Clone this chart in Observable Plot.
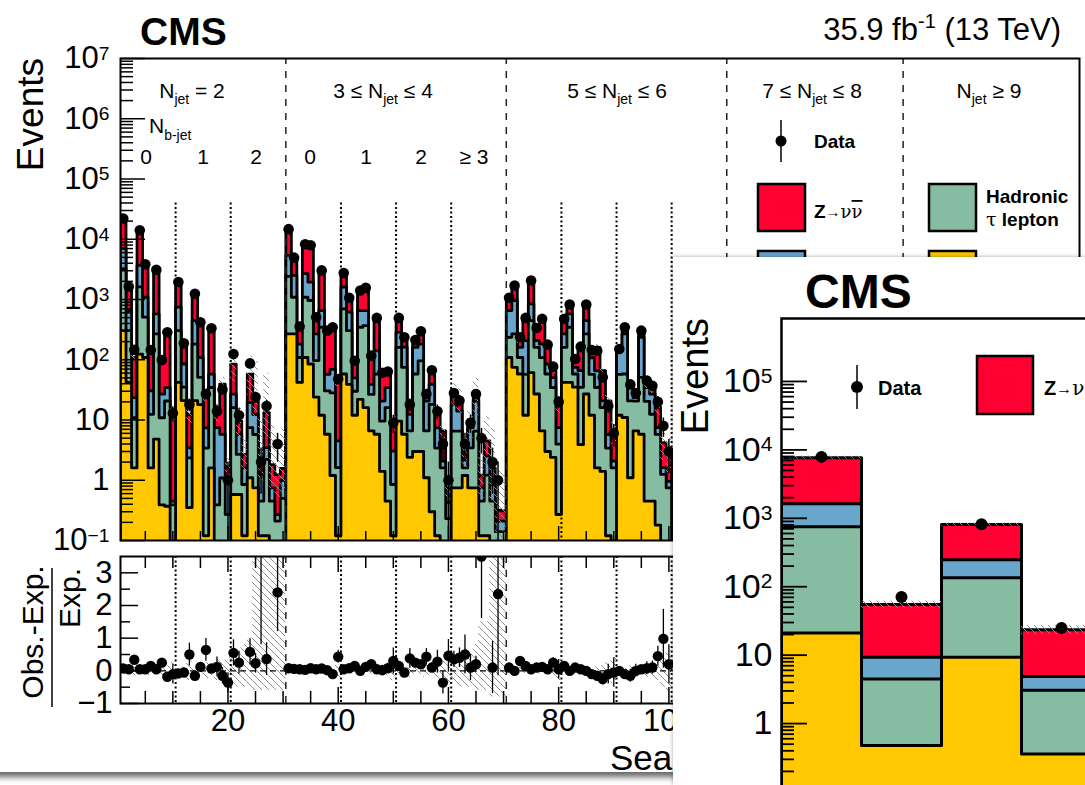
<!DOCTYPE html>
<html><head><meta charset="utf-8">
<script src="https://cdn.jsdelivr.net/npm/d3@7"></script>
<script src="https://cdn.jsdelivr.net/npm/@observablehq/plot@0.6"></script>
<style>
html,body{margin:0;padding:0;background:#fff}
body{width:1085px;height:785px;overflow:hidden;position:relative;font-family:"Liberation Sans",Arial,sans-serif}
#card{position:absolute;left:-40px;top:-30px;width:1150px;height:802px;background:#fff;box-shadow:0 5px 6px rgba(0,0,0,0.6)}
.abs{position:absolute}
#inset{position:absolute;left:673px;top:257px;width:412px;height:528px;overflow:hidden;background:#fff;box-shadow:0 0 4px rgba(0,0,0,0.35)}
svg text{font-family:"Liberation Sans",Arial,sans-serif}
</style></head>
<body>
<svg width="0" height="0" style="position:absolute"><defs>
<pattern id="hatch" patternUnits="userSpaceOnUse" width="7" height="7"><path d="M0,0 L7,7 M-1,6 L1,8 M6,-1 L8,1" stroke="#8a8a8a" stroke-width="1"/></pattern>
</defs></svg>
<div id="card"></div>
<div id="upper" class="abs" style="left:0;top:0"></div>
<div id="lower" class="abs" style="left:0;top:540px"></div>
<svg id="overlay" class="abs" style="left:0;top:0" width="1085" height="785"></svg>
<div id="inset"><div id="insetPlot" class="abs" style="left:0;top:0"></div><svg id="insetOverlay" class="abs" style="left:0;top:0" width="412" height="528"></svg></div>
<script>
// ---------------- data: search bins 1-100 (events per bin) ----------------
const qcd = [304,42,1.6,124,109,1.6,4.8,0.39,0.37,0.05,
 42,21,0.35,21,18,0.12,1.6,0.05,0.05,0.03,
 0.58,0.58,0.12,1.1,0.75,0.12,0.12,0.03,0.03,0.03,
 268,268,42,109,85,24,12,5.8,1.2,0.12,
 58,39,12,22,16,6.6,5.8,1.4,0.45,0.12,
 9.6,5.8,2.4,3.0,3.0,1.1,0.3,0.12,0.05,0.03,
 0.75,0.75,1.2,0.75,0.75,0.12,0.12,0.03,0.02,0.02,
 109,75,58,12,61,27,6.6,3.0,2.4,0.27,
 42,42,35,3.9,27,12,1.6,1.4,0.12,0.05,
 12,11,1.1,6.6,5.8,0.45,0.45,0.18,0.05,0.03];
const hadTau = [2940,262,9.3,1490,400,10.8,263,10.5,20.3,0.34,
 262,14,2.0,161,33,3.3,33,0.34,1.04,0.24,
 15.5,2.1,0.73,6.4,5.0,0.33,2.1,0.42,0.18,0.47,
 2150,822,67,980,877,73,334,24.6,27,1.5,
 641,265,18,324,353,20,52,8.2,15.6,0.73,
 151,69,4.2,55,93,5.5,17.9,3.3,1.56,0.2,
 5.8,5.8,0.4,2.7,5.8,0.33,1.1,0.42,0.12,0.12,
 127,194,51,45,386,134,102,55,32,3.7,
 119,304,23,31,241,45,33,14.7,3.3,1.56,
 45,47,19.6,14,45,20,12,5.6,1.2,0.72];
const lostLep = [3750,352,12.7,2080,580,18,309,15.9,13.9,0.06,
 441,50,1.1,265,58,4.0,23,7.1,4.7,0.82,
 10.7,3.1,0.76,12,6.6,0.79,1.25,0.3,0.06,0.5,
 2990,1420,73,1590,988,172,310,27,41,2.9,
 911,311,20,310,287,12.5,83,11,18.5,2.2,
 125,87,5.8,103,86,14,21,4.0,0.46,0.2,
 11.6,7.5,0.6,4.0,14,0.3,1.3,0.4,0.07,0.07,
 420,694,52,150,400,46,73,27,16,3.5,
 107,231,17,31,179,51,31,4.6,2.3,0.46,
 83,210,13.9,2.9,185,14,14.4,1.7,0.37,0.21];
const zinv = [13700,904,85,10400,2600,111,2460,69,251,12,
 1125,97,8.9,763,294,19.4,266,5.0,33.5,0.58,
 58,3.8,1.07,38,8.3,1.12,9.8,1.07,0.97,0.58,
 8690,2250,164,5260,5500,208,2190,228,254,40,
 1140,455,45,854,904,78,354,40,29,5.7,
 209,75,5.4,52,115,6.1,28,6.4,4.5,0.32,
 10.3,6.6,0.7,1.25,6.8,0.46,2.0,0.76,0.11,0.1,
 414,748,46,240,1100,117,237,76,15,10.8,
 179,168,35,75,298,43,95,45,15,4.5,
 10,56,4.7,4.9,50,7.3,7.8,8.7,2.6,2.1];
const observed = [22100,1650,146,14100,3830,145,3120,99,286,13,
 1950,187,18,1240,419,27,333,14,32,1,
 124,12,null,87,24,2,17,null,4,null,
 14700,4950,355,8260,7940,508,3040,304,346,48,
 2750,1070,96,1410,1560,117,495,61,64,9,
 495,236,18,213,297,27,67,14,4,1,
 28,21,4,9,27,5,null,2,1,null,
 1070,1710,236,495,2070,337,476,178,77,20,
 476,826,103,165,826,145,141,51,17,6,
 151,346,39,28,304,45,37,20,8,3];
const ratio = [0.07,0.05,0.34,0.05,0.05,0.15,0.05,0.25,-0.18,-0.1,
 -0.08,-0.05,0.5,-0.15,0.12,0.64,0.07,0.12,-0.15,-0.36,
 0.55,0.25,null,0.58,0.23,4.0,0.36,null,2.4,null,
 0.08,0.06,0.05,0.03,0.08,0.05,0.07,0.02,-0.1,0.43,
 0.05,0.08,0.15,0.0,0.12,0.2,0.05,0.02,0.08,0.3,
 0.15,-0.05,0.38,0.25,0.2,0.43,0.1,0.28,-0.36,0.46,
 0.35,0.4,0.5,0.1,0.2,3.5,null,0.1,2.35,null,
 0.1,0.0,0.3,0.15,0.05,0.1,0.12,0.05,0.25,0.05,
 0.15,0.0,0.1,0.05,0.0,-0.1,-0.15,-0.25,-0.1,-0.05,
 0.0,-0.1,-0.15,0.0,0.05,0.08,0.1,0.45,0.98,0.2];
const ratioErr = [0.02,0.04,0.12,0.02,0.03,0.1,0.03,0.12,0.12,0.3,
 0.04,0.1,0.35,0.05,0.1,0.35,0.1,0.3,0.25,0.3,
 0.4,0.35,0,0.4,0.3,3.2,0.5,0,1.2,0,
 0.02,0.03,0.08,0.02,0.02,0.06,0.03,0.08,0.08,0.2,
 0.03,0.05,0.12,0.04,0.04,0.12,0.07,0.15,0.15,0.4,
 0.07,0.1,0.3,0.1,0.08,0.25,0.15,0.35,0.35,0.5,
 0.25,0.3,0.6,0.4,0.25,1.9,0,0.8,2.5,0,
 0.05,0.04,0.1,0.06,0.03,0.08,0.07,0.1,0.15,0.3,
 0.06,0.05,0.12,0.1,0.05,0.12,0.12,0.18,0.3,0.45,
 0.1,0.07,0.2,0.2,0.08,0.2,0.2,0.3,0.9,0.6];
const predUncUp = [0.05,0.08,0.15,0.05,0.06,0.15,0.06,0.15,0.15,0.25,
 0.06,0.12,0.3,0.08,0.12,0.25,0.15,0.35,0.3,0.4,
 0.7,0.7,0.8,1.0,3.5,3.5,3.5,3.5,3.5,3.5,
 0.04,0.05,0.08,0.04,0.04,0.08,0.05,0.1,0.1,0.2,
 0.05,0.06,0.1,0.06,0.06,0.1,0.08,0.12,0.15,0.3,
 0.08,0.1,0.2,0.1,0.1,0.2,0.15,0.25,0.3,0.4,
 0.4,0.6,0.7,0.6,0.8,1.5,1.5,3.5,3.5,3.5,
 0.06,0.06,0.1,0.08,0.06,0.1,0.1,0.12,0.15,0.3,
 0.08,0.06,0.12,0.1,0.08,0.12,0.12,0.15,0.25,0.4,
 0.1,0.08,0.15,0.15,0.1,0.2,0.2,0.3,0.5,0.6];
const predUncDown = [0.05,0.08,0.15,0.05,0.06,0.15,0.06,0.15,0.15,0.25,
 0.06,0.12,0.3,0.08,0.12,0.25,0.15,0.3,0.3,0.4,
 0.5,0.5,0.5,0.55,0.6,0.6,0.6,0.6,0.6,0.6,
 0.04,0.05,0.08,0.04,0.04,0.08,0.05,0.1,0.1,0.2,
 0.05,0.06,0.1,0.06,0.06,0.1,0.08,0.12,0.15,0.3,
 0.08,0.1,0.2,0.1,0.1,0.2,0.15,0.25,0.3,0.4,
 0.4,0.5,0.5,0.5,0.6,0.6,0.6,0.8,0.8,0.8,
 0.06,0.06,0.1,0.08,0.06,0.1,0.1,0.12,0.15,0.3,
 0.08,0.06,0.12,0.1,0.08,0.12,0.12,0.15,0.25,0.4,
 0.1,0.08,0.15,0.15,0.1,0.2,0.2,0.3,0.5,0.6];
const nbBoundaries = [10.5,20.5,40.5,50.5,60.5,80.5,90.5,100.5];
const njetBoundaries = [30.5,70.5,110.5,142.5];
// inset (zoomed view, 4 bins)
const insetQcd = [21,0.48,9.3,0.36];
const insetTau = [729,4.0,126,2.7];
const insetLost = [880,4.8,112,1.8];
const insetZinv = [6070,45.7,563,18.6];
const insetData = [7900,71,820,25];
const insetUnc = [0.05,0.12,0.05,0.15];

const colors = {zinv:"#ff0030", lost:"#68a6cc", tau:"#86bda2", qcd:"#ffc800"};
const FLOOR = 1e-3;
const bins = d3.range(1, qcd.length + 1);

function cumul(...arrs){ return arrs[0].map((_,i)=>arrs.reduce((s,a)=>s+a[i],0)); }
function stepPts(tops, first){
  const p=[{x:first-0.5,y:FLOOR}];
  tops.forEach((t,i)=>{const c=first+i; p.push({x:c-0.5,y:t},{x:c+0.5,y:t});});
  p.push({x:first+tops.length-0.5,y:FLOOR});
  return p;
}
function supify(svg){
  svg.querySelectorAll("text").forEach(t=>{
    const s=t.textContent; const i=s.indexOf("^"); if(i<0) return;
    t.textContent=s.slice(0,i);
    const ts=document.createElementNS("http://www.w3.org/2000/svg","tspan");
    ts.setAttribute("dy","-0.45em"); ts.setAttribute("font-size","0.62em"); ts.textContent=s.slice(i+1);
    t.appendChild(ts);
  });
}
const logFmt = d => { const e=Math.round(Math.log10(d)); return e===0?"1":e===1?"10":"10^"+(e<0?"−"+(-e):e); };
function logTicks(e0,e1){ const maj=[],min=[]; for(let e=e0;e<=e1;e++){maj.push(10**e); if(e<e1) for(let k=2;k<10;k++) min.push(k*10**e);} return {maj,min}; }

function stackMarks(layers, first, sw){
  const m=[];
  for(const [tops,color] of layers){
    const p=stepPts(tops,first);
    m.push(Plot.areaY(p,{x:"x",y1:FLOOR,y2:"y",fill:color,clip:true}));
    m.push(Plot.line(p,{x:"x",y:"y",stroke:"black",strokeWidth:sw,clip:true}));
  }
  return m;
}

// ---------------- upper panel ----------------
const cQ = cumul(qcd), cH = cumul(qcd,hadTau), cL = cumul(qcd,hadTau,lostLep), cT = cumul(qcd,hadTau,lostLep,zinv);
const UW=1085, UH=543, UML=120, UMR=6, UMT=58, UMB=3;
const UFW=UW-UML-UMR, UFH=UH-UMT-UMB;
const ut = logTicks(-1,7);
const dpts = bins.map((b,i)=>({b,v:observed[i]})).filter(d=>d.v!=null);
const hatchU = bins.map((b,i)=>({b,lo:cT[i]*(1-predUncDown[i]),hi:cT[i]*(1+predUncUp[i])}));
const upper = Plot.plot({
  width:UW,height:UH,marginLeft:UML,marginRight:UMR,marginTop:UMT,marginBottom:UMB,
  style:{background:"transparent",overflow:"visible",maxWidth:"none",fontFamily:"Liberation Sans, Arial, sans-serif",color:"black"},
  x:{domain:[0.5,174.5],axis:null},
  y:{type:"log",domain:[0.1,1e7]},
  marks:[
    ...stackMarks([[cT,colors.zinv],[cL,colors.lost],[cH,colors.tau],[cQ,colors.qcd]],1,2.8),
    Plot.rect(hatchU,{x1:d=>d.b-0.5,x2:d=>d.b+0.5,y1:"lo",y2:"hi",fill:"url(#hatch)",clip:true}),
    Plot.ruleX(nbBoundaries,{y1:4e4,y2:0.1,stroke:"black",strokeWidth:2,strokeDasharray:"2,2.5"}),
    Plot.ruleX(njetBoundaries,{y1:0.1,y2:1e7,stroke:"#222",strokeWidth:1.5,strokeDasharray:"7,7"}),
    Plot.ruleX(dpts,{x:"b",y1:d=>Math.max(d.v-Math.sqrt(d.v),FLOOR),y2:d=>d.v+Math.sqrt(d.v),stroke:"black",strokeWidth:1.5,clip:true}),
    Plot.dot(dpts,{x:"b",y:"v",r:5.3,fill:"black",stroke:null,clip:true}),
    Plot.frame({stroke:"black",strokeWidth:2}),
    Plot.tickY(ut.maj,{y:d=>d,insetRight:UFW-25,stroke:"black",strokeWidth:1.5}),
    Plot.tickY(ut.min,{y:d=>d,insetRight:UFW-13,stroke:"black",strokeWidth:1.5}),
    Plot.tickX(d3.range(20,175,20),{x:d=>d,insetTop:UFH-14,stroke:"black",strokeWidth:1.5}),
    Plot.tickX(d3.range(5,175,5).filter(v=>v%20),{x:d=>d,insetTop:UFH-9,stroke:"black",strokeWidth:1.5}),
    Plot.axisY(ut.maj,{anchor:"left",tickSize:0,tickPadding:11,fontSize:31,tickFormat:logFmt,label:null})
  ]
});
supify(upper);
document.getElementById("upper").appendChild(upper);

// ---------------- lower (ratio) panel ----------------
const LW=1085, LH=245, LML=120, LMR=6, LMT=16, LMB=82;
const LFW=LW-LML-LMR, LFH=LH-LMT-LMB;
const rpts = bins.map((b,i)=>({b,r:ratio[i],e:ratioErr[i]})).filter(d=>d.r!=null);
const band = bins.map((b,i)=>({b,up:predUncUp[i],dn:predUncDown[i]}));
const lower = Plot.plot({
  width:LW,height:LH,marginLeft:LML,marginRight:LMR,marginTop:LMT,marginBottom:LMB,
  style:{background:"transparent",overflow:"visible",maxWidth:"none",fontFamily:"Liberation Sans, Arial, sans-serif",color:"black"},
  x:{domain:[0.5,174.5]},
  y:{domain:[-1,3.5]},
  marks:[
    Plot.rect(band,{x1:d=>d.b-0.5,x2:d=>d.b+0.5,y1:d=>-d.dn,y2:d=>d.up,fill:"url(#hatch)",clip:true}),
    Plot.ruleY([0],{stroke:"black",strokeWidth:1.2,strokeDasharray:"6,4"}),
    Plot.ruleX(nbBoundaries,{stroke:"black",strokeWidth:2,strokeDasharray:"2,2.5"}),
    Plot.ruleX(njetBoundaries,{stroke:"#222",strokeWidth:1.5,strokeDasharray:"7,7"}),
    Plot.ruleX(rpts.filter(d=>d.e>0),{x:"b",y1:d=>d.r-d.e,y2:d=>d.r+d.e,stroke:"black",strokeWidth:1.3,clip:true}),
    Plot.dot(rpts,{x:"b",y:"r",r:5.2,fill:"black",stroke:null,clip:true}),
    Plot.frame({stroke:"black",strokeWidth:2}),
    Plot.tickY([-1,0,1,2,3],{y:d=>d,insetRight:LFW-18,stroke:"black",strokeWidth:1.5}),
    Plot.tickY([-0.5,0.5,1.5,2.5],{y:d=>d,insetRight:LFW-10,stroke:"black",strokeWidth:1.5}),
    Plot.tickX(d3.range(20,175,20),{x:d=>d,insetBottom:LFH-16,stroke:"black",strokeWidth:1.5}),
    Plot.tickX(d3.range(5,175,5).filter(v=>v%20),{x:d=>d,insetBottom:LFH-12,stroke:"black",strokeWidth:1.5}),
    Plot.tickX(d3.range(20,175,20),{x:d=>d,insetTop:LFH-16,stroke:"black",strokeWidth:1.5}),
    Plot.tickX(d3.range(5,175,5).filter(v=>v%20),{x:d=>d,insetTop:LFH-12,stroke:"black",strokeWidth:1.5}),
    Plot.axisY([-1,0,1,2,3],{anchor:"left",tickSize:0,tickPadding:8,fontSize:31,tickFormat:d=>d<0?"−"+(-d):String(d),label:null}),
    Plot.axisX(d3.range(20,101,20),{anchor:"bottom",tickSize:0,tickPadding:5,fontSize:31,label:null})
  ]
});
document.getElementById("lower").appendChild(lower);

// ---------------- annotations (main) ----------------
const ov = document.getElementById("overlay");
ov.innerHTML = `
<text x="140" y="45" font-size="39" font-weight="bold">CMS</text>
<text x="1061" y="40" font-size="31" text-anchor="end">35.9 fb<tspan dy="-12" font-size="20">-1</tspan><tspan dy="12"> (13 TeV)</tspan></text>
<text transform="translate(43,58) rotate(-90)" text-anchor="end" font-size="37">Events</text>
<g font-size="21" text-anchor="middle">
 <text x="192" y="98">N<tspan dy="6" font-size="14">jet</tspan><tspan dy="-6"> = 2</tspan></text>
 <text x="383" y="98">3 ≤ N<tspan dy="6" font-size="14">jet</tspan><tspan dy="-6">  ≤ 4</tspan></text>
 <text x="617" y="98">5 ≤ N<tspan dy="6" font-size="14">jet</tspan><tspan dy="-6">  ≤ 6</tspan></text>
 <text x="812" y="98">7 ≤ N<tspan dy="6" font-size="14">jet</tspan><tspan dy="-6">  ≤ 8</tspan></text>
 <text x="989" y="98">N<tspan dy="6" font-size="14">jet</tspan><tspan dy="-6">  ≥ 9</tspan></text>
</g>
<text x="149" y="133" font-size="21">N<tspan dy="7" font-size="14">b-jet</tspan></text>
<g font-size="21" text-anchor="middle">
 <text x="146" y="164">0</text><text x="203" y="164">1</text><text x="256" y="164">2</text>
 <text x="310" y="164">0</text><text x="366" y="164">1</text><text x="421" y="164">2</text><text x="474" y="164">≥ 3</text>
</g>
<line x1="781" x2="781" y1="120" y2="162" stroke="black" stroke-width="1.5"/>
<circle cx="781" cy="141" r="5.5" fill="black"/>
<g font-size="19" font-weight="bold">
 <text x="814" y="148">Data</text>
 <rect x="758" y="184" width="47" height="47" fill="${colors.zinv}" stroke="black" stroke-width="2.5"/>
 <text x="814" y="218">Z<tspan font-size="15" dy="-1">→</tspan><tspan font-weight="normal" font-family="DejaVu Serif" font-size="18" dy="1">ν<tspan text-decoration="overline">ν</tspan></tspan></text>
 <rect x="929" y="184" width="47" height="47" fill="${colors.tau}" stroke="black" stroke-width="2.5"/>
 <text x="986" y="203">Hadronic</text>
 <text x="986" y="226"><tspan font-weight="normal" font-family="DejaVu Serif">τ</tspan> lepton</text>
 <rect x="758" y="251" width="47" height="47" fill="${colors.lost}" stroke="black" stroke-width="2.5"/>
 <text x="814" y="272">Lost lepton</text>
 <rect x="929" y="251" width="47" height="47" fill="${colors.qcd}" stroke="black" stroke-width="2.5"/>
 <text x="986" y="272">QCD</text>
</g>
<text transform="translate(43,632) rotate(-90)" text-anchor="middle" font-size="30">Obs.-Exp.</text>
<line x1="52" x2="52" y1="568" y2="707" stroke="black" stroke-width="1.5"/>
<text transform="translate(80,598) rotate(-90)" text-anchor="middle" font-size="30">Exp.</text>
<text x="610" y="770" font-size="35">Search region bin number</text>
`;

// ---------------- inset ----------------
const iQ = cumul(insetQcd), iH = cumul(insetQcd,insetTau), iL = cumul(insetQcd,insetTau,insetLost), iT = cumul(insetQcd,insetTau,insetLost,insetZinv);
const IW=428, IH=560, IML=108, IMR=0, IMT=61, IMB=25.5;
const IFW=IW-IML-IMR;
const it = logTicks(-1,5);
const ib = [1,2,3,4];
const ipts = ib.map((b,i)=>({b,v:insetData[i]}));
const ihatch = ib.map((b,i)=>({b,lo:iT[i]*(1-insetUnc[i]),hi:iT[i]*(1+insetUnc[i])}));
const inset = Plot.plot({
  width:IW,height:IH,marginLeft:IML,marginRight:IMR,marginTop:IMT,marginBottom:IMB,
  style:{background:"transparent",overflow:"visible",maxWidth:"none",fontFamily:"Liberation Sans, Arial, sans-serif",color:"black"},
  x:{domain:[0.5,4.5],axis:null},
  y:{type:"log",domain:[0.1,10**5.92]},
  marks:[
    ...stackMarks([[iT,colors.zinv],[iL,colors.lost],[iH,colors.tau],[iQ,colors.qcd]],1,3),
    Plot.rect(ihatch,{x1:d=>d.b-0.5,x2:d=>d.b+0.5,y1:"lo",y2:"hi",fill:"url(#hatch)",clip:true}),
    Plot.ruleX(ipts,{x:"b",y1:d=>d.v-Math.sqrt(d.v),y2:d=>d.v+Math.sqrt(d.v),stroke:"black",strokeWidth:1.5}),
    Plot.dot(ipts,{x:"b",y:"v",r:6,fill:"black",stroke:null}),
    Plot.frame({stroke:"black",strokeWidth:2.5}),
    Plot.tickY(it.maj,{y:d=>d,insetRight:IFW-26,stroke:"black",strokeWidth:1.8}),
    Plot.tickY(it.min,{y:d=>d,insetRight:IFW-13,stroke:"black",strokeWidth:1.8}),
    Plot.axisY(it.maj.filter(v=>v>=1),{anchor:"left",tickSize:0,tickPadding:9,fontSize:34,tickFormat:logFmt,label:null})
  ]
});
supify(inset);
document.getElementById("insetPlot").appendChild(inset);

document.getElementById("insetOverlay").innerHTML = `
<text x="132" y="51" font-size="48" font-weight="bold">CMS</text>
<text transform="translate(35,61) rotate(-90)" text-anchor="end" font-size="38">Events</text>
<line x1="184" x2="184" y1="108" y2="152" stroke="black" stroke-width="1.5"/>
<circle cx="184" cy="130" r="6" fill="black"/>
<text x="205" y="138" font-size="20" font-weight="bold">Data</text>
<rect x="304" y="99" width="56" height="58" fill="${colors.zinv}" stroke="black" stroke-width="2.5"/>
<text x="371" y="138" font-size="20" font-weight="bold">Z<tspan font-size="16" dy="-1">→</tspan><tspan font-weight="normal" font-family="DejaVu Serif" dy="1">νν</tspan></text>
`;
</script>
</body></html>
